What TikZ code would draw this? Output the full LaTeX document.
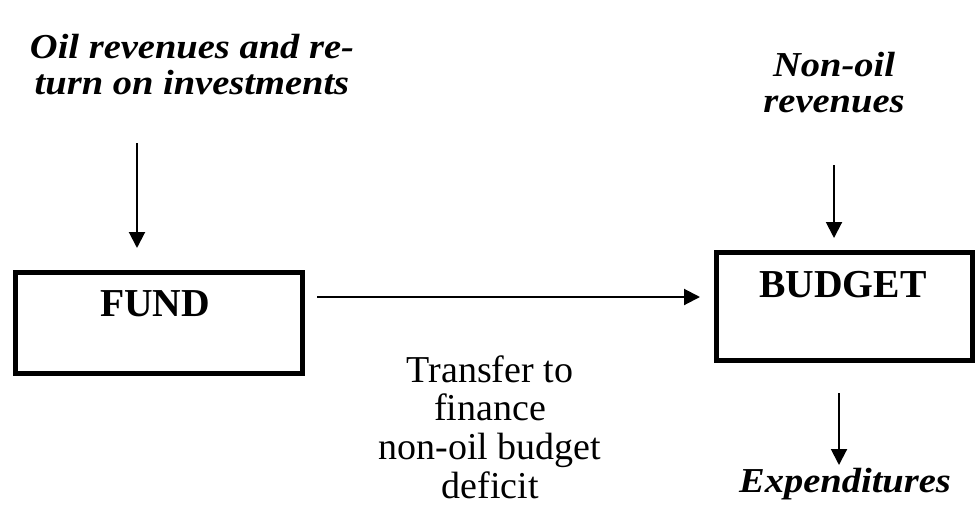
\documentclass[tikz,border=0pt]{standalone}
\usepackage{fontspec}
\setmainfont{Liberation Serif}
\newfontfamily\titlefont[FakeStretch=1.1]{Liberation Serif}
\usetikzlibrary{arrows.meta}
\begin{document}
\begin{tikzpicture}[x=0.5pt,y=-0.5pt,
  box/.style={draw, line width=2.6pt, inner sep=0pt, anchor=north west},
  arr/.style={line width=1pt, -{Triangle[length=8pt,width=8pt]}},
  title/.style={font=\titlefont\fontsize{17.5}{18}\selectfont\bfseries\itshape, align=center, inner sep=0pt},
  boxtext/.style={font=\fontsize{19.8}{24}\selectfont\bfseries, inner sep=0pt},
  lbl/.style={font=\fontsize{19}{19.3}\selectfont, align=center, inner sep=0pt}]
\useasboundingbox (0,0) rectangle (978,514);
% boxes
\node[box, minimum width=143.5pt, minimum height=50.5pt] (fund) at (12.5,269.5) {};
\node[box, minimum width=128pt, minimum height=54pt] (budget) at (713.5,249.5) {};
\node[boxtext] (fundt) at (155,304) {FUND};
\node[boxtext] (budgett) at (843,285) {BUDGET};
% titles
\node[title] (oil) at (192,65) {Oil revenues and re-\\turn on investments};
\node[title] (nonoil) at (834,83) {Non-oil\\revenues};
\node[title] (exp) at (845,484) {Expenditures};
\node[lbl] (transfer) at (490,427) {Transfer to\\finance\\non-oil budget\\deficit};
% arrow coordinates
\coordinate (a1s) at (137,143);
\coordinate (a1e) at (137,248);
\coordinate (a2s) at (317,297);
\coordinate (a2e) at (700,297);
\coordinate (a3s) at (834,165);
\coordinate (a3e) at (834,238);
\coordinate (a4s) at (839,393);
\coordinate (a4e) at (839,465);
\draw[arr] (a1s) -- (a1e);
\draw[arr] (a2s) -- (a2e);
\draw[arr] (a3s) -- (a3e);
\draw[arr] (a4s) -- (a4e);
\end{tikzpicture}
\end{document}
